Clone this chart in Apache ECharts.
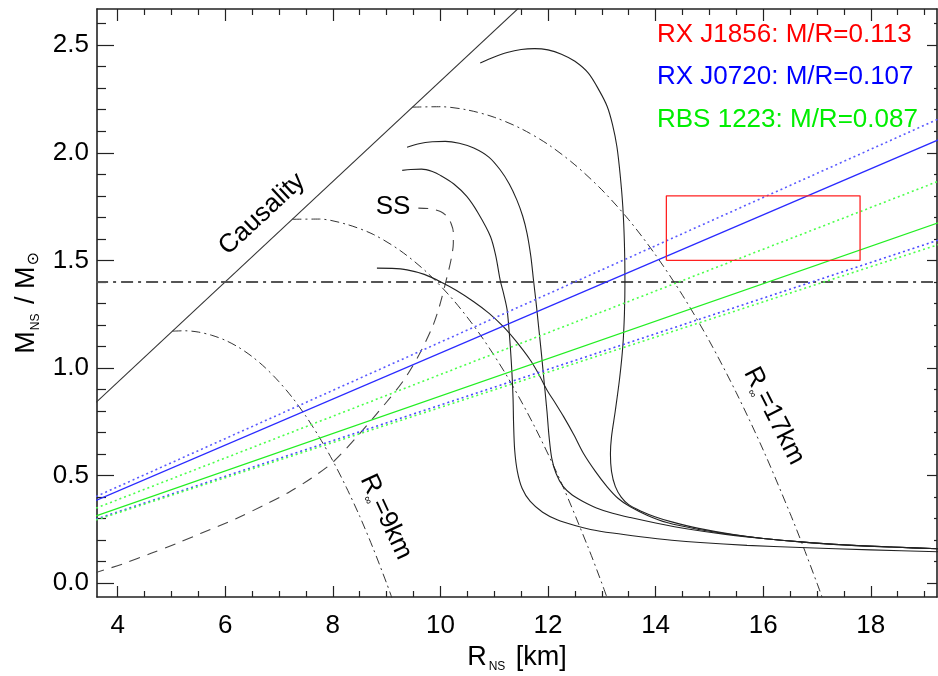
<!DOCTYPE html>
<html>
<head>
<meta charset="utf-8">
<script src="https://cdn.jsdelivr.net/npm/echarts@6/dist/echarts.min.js"></script>
<style>
  html, body { margin: 0; padding: 0; background: #ffffff; }
  #chart { width: 938px; height: 676px; }
</style>
</head>
<body>
<div id="chart"></div>
<script>
// Axis extents (radius in km, mass in solar masses)
const X_MIN = 3.617, X_MAX = 19.23;
const Y_MIN = -0.064, Y_MAX = 2.668;

// Tick positions
const xMajor = [4, 6, 8, 10, 12, 14, 16, 18];
const xMinor = [4.5, 5, 5.5, 6.5, 7, 7.5, 8.5, 9, 9.5, 10.5, 11, 11.5, 12.5, 13, 13.5,
                14.5, 15, 15.5, 16.5, 17, 17.5, 18.5, 19];
const yMajor = [0, 0.5, 1.0, 1.5, 2.0, 2.5];
const yMinor = [0.1, 0.2, 0.3, 0.4, 0.6, 0.7, 0.8, 0.9, 1.1, 1.2, 1.3, 1.4, 1.6, 1.7, 1.8, 1.9,
                2.1, 2.2, 2.3, 2.4, 2.6];

// Causality limit
const causality = [[3.6, 0.840], [11.5, 2.683]];
// Canonical 1.4 Msun mass
const canonicalMass = [[3.6, 1.4], [19.3, 1.4]];

// Lines of constant apparent radius R_inf
const rInf9 = [[5.02, 1.171], [5.25, 1.173], [5.5, 1.167], [5.75, 1.152], [6.0, 1.129], [6.25, 1.096],
  [6.5, 1.053], [6.75, 1.000], [7.0, 0.936], [7.25, 0.862], [7.5, 0.776], [7.75, 0.678], [8.0, 0.569],
  [8.25, 0.446], [8.5, 0.311], [8.75, 0.162], [9.0, 0.0], [9.1, -0.069]];
const rInf13 = [[7.25, 1.691], [7.75, 1.692], [8.25, 1.668], [8.75, 1.621], [9.25, 1.546], [9.75, 1.444],
  [10.25, 1.313], [10.75, 1.151], [11.25, 0.957], [11.75, 0.728], [12.25, 0.465], [12.75, 0.164],
  [13.0, 0.0], [13.1, -0.069]];
const rInf17 = [[9.48, 2.212], [10.0, 2.214], [10.5, 2.199], [11.0, 2.165], [11.5, 2.112], [12.0, 2.039],
  [12.5, 1.944], [13.0, 1.828], [13.5, 1.689], [14.0, 1.525], [14.5, 1.338], [15.0, 1.125],
  [15.5, 0.885], [16.0, 0.619], [16.5, 0.324], [16.75, 0.166], [17.0, 0.0], [17.1, -0.068]];

// Strange star sequence
const ssCurve = [[3.55, 0.046], [4.1, 0.090], [4.61, 0.138], [5.1, 0.185], [5.54, 0.231], [6.2, 0.300],
  [6.78, 0.370], [7.2, 0.425], [7.6, 0.488], [8.0, 0.562], [8.5, 0.695], [9.0, 0.842], [9.32, 0.944],
  [9.6, 1.060], [9.85, 1.190], [9.95, 1.260], [10.03, 1.330], [10.1, 1.400], [10.16, 1.460],
  [10.21, 1.520], [10.24, 1.580], [10.24, 1.630], [10.2, 1.670], [10.12, 1.705], [10.0, 1.727],
  [9.8, 1.740], [9.59, 1.743]];

// Neutron star mass-radius relations
const eosA = [[8.82, 1.464], [9.1, 1.463], [9.38, 1.456], [9.7, 1.435], [10.0, 1.401], [10.3, 1.360],
  [10.62, 1.308], [10.9, 1.255], [11.17, 1.192], [11.42, 1.120], [11.67, 1.037], [11.83, 0.970],
  [11.98, 0.898], [12.14, 0.835], [12.29, 0.774], [12.48, 0.690], [12.66, 0.603], [12.88, 0.520],
  [13.10, 0.448], [13.3, 0.395], [13.53, 0.355], [13.85, 0.315], [14.21, 0.282], [14.8, 0.250],
  [15.45, 0.225], [16.0, 0.208], [16.69, 0.192], [17.5, 0.178], [18.4, 0.168], [19.3, 0.160]];
const eosB = [[9.29, 1.918], [9.45, 1.922], [9.65, 1.924], [9.85, 1.913], [10.0, 1.895], [10.25, 1.855],
  [10.49, 1.797], [10.7, 1.720], [10.93, 1.611], [11.03, 1.520], [11.11, 1.409], [11.18, 1.340],
  [11.24, 1.270], [11.29, 1.130], [11.33, 0.975], [11.35, 0.860], [11.36, 0.743], [11.38, 0.620],
  [11.43, 0.520], [11.52, 0.440], [11.67, 0.380], [11.9, 0.330], [12.17, 0.295], [12.5, 0.268],
  [12.79, 0.250], [13.2, 0.233], [13.72, 0.216], [14.3, 0.200], [14.83, 0.189], [15.7, 0.176],
  [16.69, 0.166], [18.0, 0.155], [19.3, 0.146]];
const eosC = [[9.38, 2.026], [9.6, 2.042], [9.85, 2.051], [10.09, 2.053], [10.35, 2.044], [10.62, 2.022],
  [10.9, 1.980], [11.11, 1.921], [11.28, 1.855], [11.42, 1.781], [11.53, 1.705], [11.61, 1.626],
  [11.68, 1.520], [11.73, 1.409], [11.78, 1.300], [11.83, 1.180], [11.88, 1.060], [11.93, 0.930],
  [11.98, 0.800], [12.02, 0.680], [12.07, 0.580], [12.15, 0.510], [12.28, 0.450], [12.45, 0.410],
  [12.65, 0.380], [12.9, 0.350], [13.2, 0.325], [13.53, 0.305], [14.0, 0.280], [14.6, 0.252],
  [15.3, 0.227], [16.0, 0.208], [16.69, 0.193], [17.5, 0.179], [18.4, 0.168], [19.3, 0.160]];
const eosD = [[10.74, 2.417], [11.0, 2.445], [11.24, 2.466], [11.5, 2.480], [11.75, 2.484], [12.0, 2.478],
  [12.25, 2.458], [12.5, 2.425], [12.75, 2.370], [12.95, 2.290], [13.10, 2.215], [13.2, 2.130],
  [13.28, 2.029], [13.34, 1.900], [13.39, 1.750], [13.42, 1.580], [13.43, 1.409], [13.42, 1.250],
  [13.39, 1.100], [13.33, 0.950], [13.25, 0.800], [13.18, 0.680], [13.16, 0.600], [13.18, 0.520],
  [13.25, 0.450], [13.36, 0.400], [13.5, 0.365], [13.72, 0.336], [14.0, 0.308], [14.3, 0.285],
  [14.8, 0.255], [15.45, 0.226], [16.0, 0.208], [16.69, 0.192], [17.5, 0.178], [18.4, 0.168],
  [19.3, 0.160]];

// Constant compactness lines M/R for RX J0720 (blue) and RBS 1223 (green)
const j0720Best = [[3.6, 0.385], [19.3, 2.065]];
const j0720Upper = [[3.6, 0.403], [19.3, 2.162]];
const j0720Lower = [[3.6, 0.298], [19.3, 1.598]];
const rbsBest = [[3.6, 0.313], [19.3, 1.679]];
const rbsUpper = [[3.6, 0.349], [19.3, 1.872]];
const rbsLower = [[3.6, 0.294], [19.3, 1.577]];

// RX J1856 allowed box
const j1856Box = [[14.2, 1.5], [17.8, 1.5], [17.8, 1.8], [14.2, 1.8], [14.2, 1.5]];

const FONT = '"Liberation Sans", Arial, Helvetica, sans-serif';
const INK = '#222';

function lineSeries(data, color, width, type, smooth) {
  return {
    type: 'line', data: data, xAxisIndex: 0, yAxisIndex: 0,
    showSymbol: false, symbol: 'none', silent: true, clip: true,
    smooth: smooth || false,
    lineStyle: { color: color, width: width, type: type || 'solid' },
    z: 3
  };
}

function tickAxis(base, position, values, length, showLine, extra) {
  return Object.assign({
    type: 'value', position: position, min: base[0], max: base[1],
    splitLine: { show: false },
    axisLine: { show: showLine, onZero: false, lineStyle: { color: INK, width: 1.6 } },
    axisTick: { show: true, inside: true, length: length, customValues: values,
                lineStyle: { color: INK, width: 1.2 } },
    axisLabel: { show: false }
  }, extra || {});
}

const xb = [X_MIN, X_MAX], yb = [Y_MIN, Y_MAX];

const option = {
  animation: false,
  backgroundColor: '#ffffff',
  grid: { left: 97, right: 1, top: 9, bottom: 79, containLabel: false, outerBoundsMode: 'none' },
  xAxis: [
    tickAxis(xb, 'bottom', xMajor, 11, true, {
      axisLabel: { show: true, customValues: xMajor, margin: 16, color: '#000',
                   fontSize: 26, fontFamily: FONT },
      name: '{m|R}{s|NS}{m| [km]}',
      nameLocation: 'middle', nameGap: 44,
      nameTextStyle: { rich: {
        m: { fontSize: 27, fontFamily: FONT, color: '#000', lineHeight: 30 },
        s: { fontSize: 12, fontFamily: FONT, color: '#000', lineHeight: 12, verticalAlign: 'bottom', padding: [0, 3, 0, 2] }
      } }
    }),
    tickAxis(xb, 'bottom', xMinor, 6, false),
    tickAxis(xb, 'top', xMajor, 12, true),
    tickAxis(xb, 'top', xMinor, 6, false)
  ],
  yAxis: [
    tickAxis(yb, 'left', yMajor, 17, true, {
      axisLabel: { show: true, customValues: yMajor, margin: 8, color: '#000',
                   fontSize: 26, fontFamily: FONT, formatter: v => v.toFixed(1) },
      name: '{m|M}{s|NS}{m| / M}{o|⊙}',
      nameLocation: 'middle', nameGap: 52, nameRotate: 90,
      nameTextStyle: { rich: {
        m: { fontSize: 27, fontFamily: FONT, color: '#000', lineHeight: 30 },
        s: { fontSize: 12, fontFamily: FONT, color: '#000', lineHeight: 12, verticalAlign: 'bottom', padding: [0, 2, 0, 1] },
        o: { fontSize: 16, fontFamily: '"DejaVu Sans", sans-serif', color: '#000', lineHeight: 16, verticalAlign: 'bottom', padding: [0, 0, 0, 1] }
      } }
    }),
    tickAxis(yb, 'left', yMinor, 9, false),
    tickAxis(yb, 'right', yMajor, 10, true),
    tickAxis(yb, 'right', yMinor, 3, false)
  ],
  series: [
    lineSeries(causality, '#333', 1.1),
    lineSeries(canonicalMass, '#555', 2, [12, 5, 3, 5]),
    lineSeries(rInf9, '#333', 1, [9, 4, 2, 4], 0.3),
    lineSeries(rInf13, '#333', 1, [9, 4, 2, 4], 0.3),
    lineSeries(rInf17, '#333', 1, [9, 4, 2, 4], 0.3),
    lineSeries(ssCurve, '#444', 1.1, [11, 8], 0.3),
    lineSeries(eosA, '#222', 1.1, 'solid', 0.3),
    lineSeries(eosB, '#222', 1.1, 'solid', 0.3),
    lineSeries(eosC, '#222', 1.1, 'solid', 0.3),
    lineSeries(eosD, '#222', 1.1, 'solid', 0.3),
    lineSeries(j0720Upper, '#5a5aff', 1.6, [2, 3]),
    lineSeries(j0720Best, '#2a2aff', 1.3),
    lineSeries(j0720Lower, '#4a4aff', 1.6, [2, 3]),
    lineSeries(rbsUpper, '#4cff4c', 1.6, [2, 3]),
    lineSeries(rbsBest, '#22ee22', 1.3),
    lineSeries(rbsLower, '#4cff4c', 1.6, [2, 3]),
    lineSeries(j1856Box, '#ff2020', 1.3)
  ],
  graphic: [
    { type: 'text', x: 657, y: 35, silent: true,
      style: { text: 'RX J1856: M/R=0.113', fill: '#ff0000', fontSize: 26, fontFamily: FONT,
               align: 'left', verticalAlign: 'middle' } },
    { type: 'text', x: 657, y: 77, silent: true,
      style: { text: 'RX J0720: M/R=0.107', fill: '#0000ff', fontSize: 26, fontFamily: FONT,
               align: 'left', verticalAlign: 'middle' } },
    { type: 'text', x: 657, y: 120, silent: true,
      style: { text: 'RBS 1223: M/R=0.087', fill: '#00ee00', fontSize: 26, fontFamily: FONT,
               align: 'left', verticalAlign: 'middle' } },
    { type: 'text', x: 262, y: 214, rotation: 43 * Math.PI / 180, silent: true,
      style: { text: 'Causality', fill: '#000', fontSize: 26, fontFamily: FONT,
               align: 'center', verticalAlign: 'middle' } },
    { type: 'text', x: 393, y: 207, silent: true,
      style: { text: 'SS', fill: '#000', fontSize: 26, fontFamily: FONT,
               align: 'center', verticalAlign: 'middle' } },
    { type: 'text', x: 386, y: 517, rotation: -65 * Math.PI / 180, silent: true,
      style: { text: '{m|R}{s|∞}{m|=9km}', align: 'center', verticalAlign: 'middle',
               rich: { m: { fontSize: 26, fontFamily: FONT, fill: '#000', lineHeight: 30 },
                       s: { fontSize: 11, fontFamily: FONT, fill: '#000', lineHeight: 11, verticalAlign: 'bottom' } } } },
    { type: 'text', x: 774, y: 416, rotation: -63 * Math.PI / 180, silent: true,
      style: { text: '{m|R}{s|∞}{m|=17km}', align: 'center', verticalAlign: 'middle',
               rich: { m: { fontSize: 26, fontFamily: FONT, fill: '#000', lineHeight: 30 },
                       s: { fontSize: 11, fontFamily: FONT, fill: '#000', lineHeight: 11, verticalAlign: 'bottom' } } } }
  ]
};

const chart = echarts.init(document.getElementById('chart'), null, { renderer: 'canvas' });
chart.setOption(option);
</script>
</body>
</html>
